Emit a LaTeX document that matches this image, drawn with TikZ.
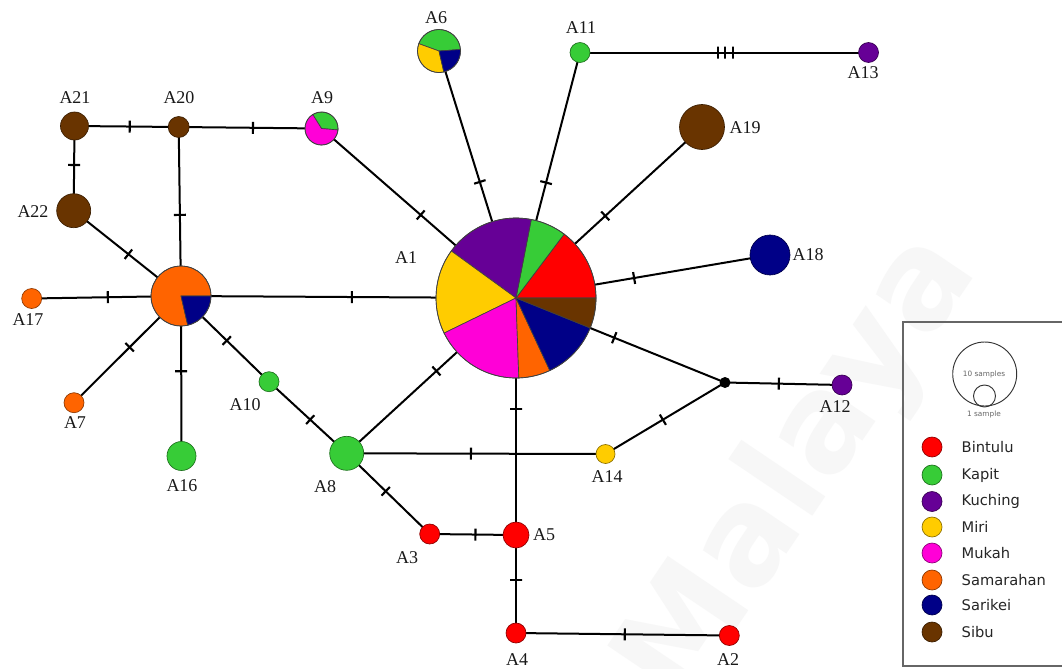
\documentclass[tikz,border=0pt]{standalone}
\usepackage{fontspec}
\setmainfont{Liberation Serif}
\newfontfamily\legendfont{DejaVu Sans}
\usetikzlibrary{backgrounds}

\definecolor{cBin}{RGB}{255,0,0}
\definecolor{cKap}{RGB}{55,204,55}
\definecolor{cKuc}{RGB}{102,0,150}
\definecolor{cMir}{RGB}{255,204,0}
\definecolor{cMuk}{RGB}{255,0,215}
\definecolor{cSam}{RGB}{255,100,0}
\definecolor{cSar}{RGB}{0,0,135}
\definecolor{cSib}{RGB}{105,52,0}

% one pie sector of haplotype node #1, radius #2, from angle #3 to #4 (counter-clockwise)
\newcommand\hapslice[5]{%
  \fill[#5, draw=black!75, line width=0.5pt] (#1.center) -- ++(-#3:#2)
    arc[start angle=-#3, end angle=-#4, radius=#2] -- cycle;}

\tikzset{
  hap/.style={circle, inner sep=0pt, outer sep=0pt, minimum size=#1*1.5pt},
  hc/.style={fill=#1, draw=#1!55!black, line width=0.5pt},
  rim/.style={draw=black!75, line width=0.5pt},
  edge/.style={line width=1.5pt, black},
  mut/.style={sloped, draw, line width=1.6pt, inner sep=0pt, outer sep=0pt,
              minimum width=0pt, minimum height=9pt, shape=rectangle},
  lab/.style={font=\fontsize{13.5}{16}\selectfont, text=black!90},
  leg/.style={font=\legendfont\fontsize{11}{13}\selectfont, text=black!85, anchor=west},
  legdot/.style={circle, inner sep=0pt, minimum size=15pt, fill=#1, draw=#1!55!black, line width=0.5pt}
}

\begin{document}
\begin{tikzpicture}[x=0.75pt, y=-0.75pt]
\useasboundingbox (0,0) rectangle (1062,668);

% ---------- haplotype nodes ----------
\node[hap=80] (A1) at (516,298) {};
\node[hap=10, hc=cBin] (A2) at (729.3,635.5) {};
\node[hap=10, hc=cBin] (A3) at (429.7,534) {};
\node[hap=10, hc=cBin] (A4) at (516,633) {};
\node[hap=13, hc=cBin] (A5) at (516,535) {};
\node[hap=21.5] (A6) at (439,51) {};
\node[hap=10, hc=cSam] (A7) at (74,402.7) {};
\node[hap=17, hc=cKap] (A8) at (346.7,453.3) {};
\node[hap=16.5] (A9) at (321.5,128.5) {};
\node[hap=10, hc=cKap] (A10) at (269,381.7) {};
\node[hap=10, hc=cKap] (A11) at (580,52.5) {};
\node[hap=10, hc=cKuc] (A12) at (842,385) {};
\node[hap=10, hc=cKuc] (A13) at (868.5,52.5) {};
\node[hap=9.5, hc=cMir] (A14) at (605.5,454) {};
\node[hap=30] (A15) at (181,296) {};
\node[hap=14.5, hc=cKap] (A16) at (181.5,456) {};
\node[hap=10, hc=cSam] (A17) at (31.7,298.5) {};
\node[hap=20, hc=cSar] (A18) at (770,255) {};
\node[hap=22.5, hc=cSib] (A19) at (702,127) {};
\node[hap=10.5, hc=cSib] (A20) at (178.7,127) {};
\node[hap=14, hc=cSib] (A21) at (74.5,126) {};
\node[hap=17, hc=cSib] (A22) at (73.7,210.7) {};
\node[hap=5.5, fill=black] (mv) at (725,382.5) {};

% ---------- pie charts ----------
\hapslice{A1}{80}{0}{53}{cBin}
\hapslice{A1}{80}{53}{79}{cKap}
\hapslice{A1}{80}{79}{144}{cKuc}
\hapslice{A1}{80}{144}{206}{cMir}
\hapslice{A1}{80}{206}{272}{cMuk}
\hapslice{A1}{80}{272}{295}{cSam}
\hapslice{A1}{80}{295}{338}{cSar}
\hapslice{A1}{80}{338}{360}{cSib}
\draw[rim] (A1.center) circle[radius=80];

\hapslice{A6}{21.5}{4}{160}{cKap}
\hapslice{A6}{21.5}{160}{283}{cMir}
\hapslice{A6}{21.5}{283}{364}{cSar}
\draw[rim] (A6.center) circle[radius=21.5];

\hapslice{A9}{16.5}{-5}{122}{cKap}
\hapslice{A9}{16.5}{122}{355}{cMuk}
\draw[rim] (A9.center) circle[radius=16.5];

\hapslice{A15}{30}{0}{283}{cSam}
\hapslice{A15}{30}{283}{360}{cSar}
\draw[rim] (A15.center) circle[radius=30];

% ---------- connectors with mutation ticks ----------
\begin{scope}[on background layer]
  \fill[white] (0,0) rectangle (1062,668);
  \node[rotate=56, text=black!3, font=\legendfont\bfseries\fontsize{100}{100}\selectfont]
    (wm) at (800,470) {Malaya};

  \draw[edge] (A1.center) -- node[mut, pos=0.49]{} (A9.center);
  \draw[edge] (A1.center) -- node[mut, pos=0.47]{} (A6.center);
  \draw[edge] (A1.center) -- node[mut, pos=0.47]{} (A11.center);
  \draw[edge] (A1.center) -- node[mut, pos=0.48]{} (A19.center);
  \draw[edge] (A1.center) -- node[mut, pos=0.465]{} (A18.center);
  \draw[edge] (A1.center) -- node[mut, pos=0.47]{} (mv.center);
  \draw[edge] (A1.center) -- node[mut, pos=0.47]{} (A5.center);
  \draw[edge] (A1.center) -- node[mut, pos=0.47]{} (A8.center);
  \draw[edge] (A1.center) -- node[mut, pos=0.49]{} (A15.center);
  \draw[edge] (mv.center) -- node[mut, pos=0.52]{} (A14.center);
  \draw[edge] (mv.center) -- node[mut, pos=0.46]{} (A12.center);
  \draw[edge] (A8.center) -- node[mut, pos=0.48]{} (A14.center);
  \draw[edge] (A8.center) -- node[mut, pos=0.47]{} (A3.center);
  \draw[edge] (A3.center) -- node[mut, pos=0.53]{} (A5.center);
  \draw[edge] (A5.center) -- node[mut, pos=0.46]{} (A4.center);
  \draw[edge] (A4.center) -- node[mut, pos=0.51]{} (A2.center);
  \draw[edge] (A11.center) -- node[mut, pos=0.478]{} node[mut, pos=0.504]{} node[mut, pos=0.53]{} (A13.center);
  \draw[edge] (A15.center) -- node[mut, pos=0.49]{} (A17.center);
  \draw[edge] (A15.center) -- node[mut, pos=0.48]{} (A7.center);
  \draw[edge] (A15.center) -- node[mut, pos=0.47]{} (A16.center);
  \draw[edge] (A15.center) -- node[mut, pos=0.52]{} (A10.center);
  \draw[edge] (A10.center) -- node[mut, pos=0.53]{} (A8.center);
  \draw[edge] (A15.center) -- node[mut, pos=0.49]{} (A22.center);
  \draw[edge] (A15.center) -- node[mut, pos=0.48]{} (A20.center);
  \draw[edge] (A20.center) -- node[mut, pos=0.47]{} (A21.center);
  \draw[edge] (A20.center) -- node[mut, pos=0.52]{} (A9.center);
  \draw[edge] (A21.center) -- node[mut, pos=0.46]{} (A22.center);
\end{scope}

% ---------- haplotype labels ----------
\node[lab] (lA1) at (406,258) {A1};
\node[lab] (lA2) at (728,660) {A2};
\node[lab] (lA3) at (407,558) {A3};
\node[lab] (lA4) at (517,660) {A4};
\node[lab] (lA5) at (544,535) {A5};
\node[lab] (lA6) at (436,18) {A6};
\node[lab] (lA7) at (75,423) {A7};
\node[lab] (lA8) at (325,487) {A8};
\node[lab] (lA9) at (322,98) {A9};
\node[lab] (lA10) at (245,405) {A10};
\node[lab] (lA11) at (581,28) {A11};
\node[lab] (lA12) at (835,407) {A12};
\node[lab] (lA13) at (863,73) {A13};
\node[lab] (lA14) at (607,477) {A14};
\node[lab] (lA16) at (182,486) {A16};
\node[lab] (lA17) at (28,320) {A17};
\node[lab] (lA18) at (808,255) {A18};
\node[lab] (lA19) at (745,128) {A19};
\node[lab] (lA20) at (179,98) {A20};
\node[lab] (lA21) at (75,98) {A21};
\node[lab] (lA22) at (33,212) {A22};

% ---------- legend ----------
\draw[black!60, line width=0.8pt] (903,322) rectangle (1075,666);
\node[circle, draw=black!80, line width=0.7pt, minimum size=48pt, inner sep=0pt] (big) at (984.7,374) {};
\node[circle, draw=black!80, line width=0.7pt, minimum size=16.5pt, inner sep=0pt] (small) at (984.5,396) {};
\node[font=\legendfont\fontsize{5.5}{6}\selectfont, text=black!60] (tbig) at (984,374) {10 samples};
\node[font=\legendfont\fontsize{5.5}{6}\selectfont, text=black!60] (tsmall) at (984,414) {1 sample};

\node[legdot=cBin] (kBin) at (932,447) {};
\node[legdot=cKap] (kKap) at (932,475) {};
\node[legdot=cKuc] (kKuc) at (932,501.5) {};
\node[legdot=cMir] (kMir) at (932,527) {};
\node[legdot=cMuk] (kMuk) at (932,553) {};
\node[legdot=cSam] (kSam) at (932,580) {};
\node[legdot=cSar] (kSar) at (932,605) {};
\node[legdot=cSib] (kSib) at (932,632) {};
\node[leg] (tBin) at (957,447) {Bintulu};
\node[leg] (tKap) at (957,475) {Kapit};
\node[leg] (tKuc) at (957,501.5) {Kuching};
\node[leg] (tMir) at (957,527) {Miri};
\node[leg] (tMuk) at (957,553) {Mukah};
\node[leg] (tSam) at (957,580) {Samarahan};
\node[leg] (tSar) at (957,605) {Sarikei};
\node[leg] (tSib) at (957,632) {Sibu};
\end{tikzpicture}
\end{document}
